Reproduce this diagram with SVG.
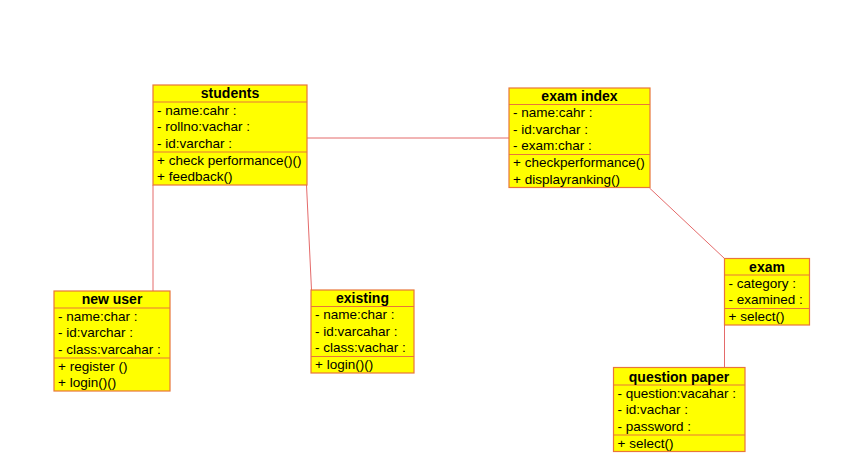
<svg xmlns="http://www.w3.org/2000/svg" width="852" height="463" viewBox="0 0 852 463">
<style>
.box{fill:#FFFF00;stroke:#E8763A;stroke-width:1.2}
.sep{stroke:#E8763A;stroke-width:1.2}
.conn{stroke:#E46A6A;stroke-width:1;fill:none}
.h{font-family:"Liberation Sans",Arial,sans-serif;font-size:14px;font-weight:bold;fill:#000;text-anchor:middle}
.t{font-family:"Liberation Sans",Arial,sans-serif;font-size:13.5px;fill:#000}
</style>
<rect width="852" height="463" fill="#FFFFFF"/>
<g id="connectors">
<line class="conn" x1="307" y1="138" x2="509" y2="138"/>
<line class="conn" x1="153" y1="185" x2="153" y2="291"/>
<line class="conn" x1="306.5" y1="185" x2="311.5" y2="290"/>
<line class="conn" x1="649.5" y1="188" x2="724.5" y2="258.5"/>
<line class="conn" x1="724.5" y1="325" x2="724.5" y2="367.5"/>
</g>
<g id="students">
<rect class="box" x="153" y="85" width="154" height="100"/>
<line class="sep" x1="153" y1="102" x2="307" y2="102"/>
<line class="sep" x1="153" y1="152" x2="307" y2="152"/>
<text class="h" x="230" y="98">students</text>
<text class="t" x="157" y="114.5">- name:cahr :</text>
<text class="t" x="157" y="131">- rollno:vachar :</text>
<text class="t" x="157" y="147.5">- id:varchar :</text>
<text class="t" x="157" y="164.5">+ check performance()()</text>
<text class="t" x="157" y="181">+ feedback()</text>
</g>
<g id="exam-index">
<rect class="box" x="509" y="88" width="141" height="99.5"/>
<line class="sep" x1="509" y1="104.5" x2="650" y2="104.5"/>
<line class="sep" x1="509" y1="154.5" x2="650" y2="154.5"/>
<text class="h" x="579.5" y="101">exam index</text>
<text class="t" x="513" y="117">- name:cahr :</text>
<text class="t" x="513" y="133.5">- id:varchar :</text>
<text class="t" x="513" y="150">- exam:char :</text>
<text class="t" x="513" y="167">+ checkperformance()</text>
<text class="t" x="513" y="183.5">+ displayranking()</text>
</g>
<g id="new-user">
<rect class="box" x="54" y="291" width="116" height="100"/>
<line class="sep" x1="54" y1="308" x2="170" y2="308"/>
<line class="sep" x1="54" y1="358" x2="170" y2="358"/>
<text class="h" x="112" y="304">new user</text>
<text class="t" x="58" y="320.5">- name:char :</text>
<text class="t" x="58" y="337">- id:varchar :</text>
<text class="t" x="58" y="353.5">- class:varcahar :</text>
<text class="t" x="58" y="370.5">+ register ()</text>
<text class="t" x="58" y="387">+ login()()</text>
</g>
<g id="existing">
<rect class="box" x="311" y="290" width="103" height="83"/>
<line class="sep" x1="311" y1="306.5" x2="414" y2="306.5"/>
<line class="sep" x1="311" y1="356.5" x2="414" y2="356.5"/>
<text class="h" x="362.5" y="303">existing</text>
<text class="t" x="315" y="319">- name:char :</text>
<text class="t" x="315" y="335.5">- id:varcahar :</text>
<text class="t" x="315" y="352">- class:vachar :</text>
<text class="t" x="315" y="369">+ login()()</text>
</g>
<g id="exam">
<rect class="box" x="724.5" y="258.5" width="85" height="66.5"/>
<line class="sep" x1="724.5" y1="275" x2="809.5" y2="275"/>
<line class="sep" x1="724.5" y1="308.5" x2="809.5" y2="308.5"/>
<text class="h" x="767" y="271.5">exam</text>
<text class="t" x="728.5" y="287.5">- category :</text>
<text class="t" x="728.5" y="304">- examined :</text>
<text class="t" x="728.5" y="321">+ select()</text>
</g>
<g id="question-paper">
<rect class="box" x="613.5" y="367.5" width="131.5" height="84"/>
<line class="sep" x1="613.5" y1="385" x2="745" y2="385"/>
<line class="sep" x1="613.5" y1="435" x2="745" y2="435"/>
<text class="h" x="679" y="381.5">question paper</text>
<text class="t" x="617.5" y="397.5">- question:vacahar :</text>
<text class="t" x="617.5" y="414">- id:vachar :</text>
<text class="t" x="617.5" y="430.5">- password :</text>
<text class="t" x="617.5" y="447.5">+ select()</text>
</g>
</svg>
